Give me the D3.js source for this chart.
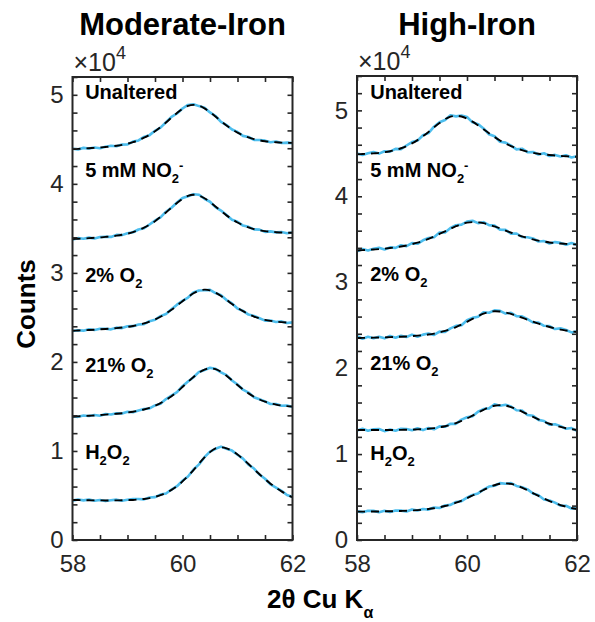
<!DOCTYPE html>
<html>
<head>
<meta charset="utf-8">
<script src="https://cdn.jsdelivr.net/npm/d3@7/dist/d3.min.js"></script>
<style>
  body { margin: 0; background: #ffffff; }
  svg { display: block; }
</style>
</head>
<body>
<svg id="chart" width="595" height="622"></svg>
<script>
// 2θ sampling grid (degrees, Cu Kα)
const twoTheta = [58.0,58.1,58.2,58.3,58.4,58.5,58.6,58.7,58.8,58.9,59.0,59.1,59.2,59.3,59.4,59.5,59.6,59.7,59.8,59.9,
                  60.0,60.1,60.2,60.3,60.4,60.5,60.6,60.7,60.8,60.9,61.0,61.1,61.2,61.3,61.4,61.5,61.6,61.7,61.8,61.9,62.0];

const sampleLabels = ["Unaltered", "5 mM NO2-", "2% O2", "21% O2", "H2O2"];
const xTickLabels = [58, 60, 62];
const yTickLabels = [0, 1, 2, 3, 4, 5];

// Moderate-iron samples: measured counts and fitted profiles (×10^4 counts, offset stacked)
const modUnalteredCounts = [4.394,4.387,4.404,4.397,4.409,4.399,4.416,4.427,4.423,4.441,4.443,4.474,4.488,4.527,4.547,4.596,4.631,4.692,4.752,4.790,4.846,4.886,4.893,4.873,4.855,4.802,4.762,4.697,4.660,4.611,4.583,4.539,4.526,4.493,4.492,4.485,4.468,4.475,4.458,4.463,4.457];
const modUnalteredFit    = [4.390,4.393,4.396,4.400,4.404,4.408,4.414,4.420,4.428,4.438,4.451,4.468,4.490,4.518,4.551,4.591,4.638,4.689,4.744,4.796,4.842,4.875,4.887,4.878,4.848,4.805,4.756,4.705,4.656,4.613,4.576,4.545,4.521,4.502,4.489,4.479,4.472,4.467,4.463,4.461,4.460];
const modNitriteCounts   = [3.375,3.390,3.383,3.396,3.386,3.402,3.406,3.404,3.427,3.424,3.446,3.456,3.487,3.501,3.544,3.587,3.623,3.687,3.731,3.791,3.841,3.861,3.884,3.878,3.832,3.799,3.739,3.700,3.649,3.597,3.574,3.531,3.517,3.489,3.486,3.461,3.466,3.455,3.459,3.446,3.454];
const modNitriteFit      = [3.380,3.383,3.386,3.390,3.394,3.398,3.404,3.410,3.418,3.428,3.441,3.458,3.480,3.508,3.541,3.581,3.628,3.679,3.734,3.786,3.832,3.865,3.877,3.868,3.838,3.795,3.746,3.695,3.646,3.603,3.566,3.535,3.511,3.492,3.479,3.469,3.462,3.457,3.453,3.451,3.450];
const modO2LowCounts     = [2.347,2.355,2.351,2.367,2.358,2.372,2.373,2.366,2.385,2.380,2.401,2.402,2.420,2.424,2.458,2.474,2.514,2.539,2.592,2.643,2.686,2.723,2.779,2.803,2.805,2.809,2.774,2.749,2.695,2.657,2.600,2.573,2.532,2.517,2.491,2.464,2.466,2.449,2.455,2.437,2.444];
const modO2LowFit        = [2.350,2.353,2.356,2.359,2.362,2.366,2.370,2.375,2.380,2.386,2.394,2.404,2.416,2.432,2.452,2.477,2.507,2.544,2.586,2.632,2.682,2.729,2.771,2.800,2.812,2.804,2.778,2.740,2.697,2.651,2.608,2.570,2.537,2.510,2.489,2.473,2.461,2.452,2.447,2.443,2.440];
const modO2HighCounts    = [1.389,1.383,1.398,1.393,1.403,1.395,1.415,1.410,1.424,1.420,1.440,1.435,1.455,1.471,1.477,1.512,1.531,1.583,1.622,1.660,1.728,1.781,1.828,1.888,1.909,1.934,1.922,1.882,1.852,1.792,1.746,1.688,1.656,1.603,1.580,1.557,1.527,1.527,1.508,1.511,1.495];
const modO2HighFit       = [1.385,1.388,1.392,1.395,1.399,1.403,1.408,1.413,1.418,1.424,1.432,1.441,1.452,1.466,1.484,1.508,1.537,1.573,1.615,1.664,1.719,1.776,1.831,1.880,1.914,1.928,1.919,1.889,1.845,1.794,1.741,1.692,1.647,1.609,1.578,1.553,1.535,1.521,1.511,1.504,1.500];
const modPeroxideCounts  = [0.442,0.455,0.445,0.455,0.441,0.450,0.437,0.447,0.453,0.440,0.452,0.461,0.461,0.456,0.478,0.482,0.510,0.522,0.567,0.604,0.665,0.713,0.791,0.849,0.930,0.993,1.024,1.049,1.025,1.004,0.957,0.914,0.847,0.803,0.735,0.688,0.624,0.589,0.553,0.505,0.483];
const modPeroxideFit     = [0.450,0.449,0.447,0.446,0.445,0.445,0.444,0.444,0.445,0.446,0.448,0.450,0.455,0.461,0.471,0.485,0.504,0.530,0.563,0.606,0.658,0.719,0.786,0.858,0.927,0.987,1.028,1.041,1.030,1.002,0.960,0.910,0.853,0.795,0.738,0.683,0.633,0.587,0.546,0.510,0.480];

// High-iron samples
const highUnalteredCounts = [4.499,4.480,4.501,4.514,4.497,4.524,4.519,4.552,4.549,4.591,4.631,4.648,4.711,4.735,4.810,4.862,4.888,4.943,4.930,4.941,4.923,4.861,4.840,4.790,4.722,4.699,4.635,4.625,4.590,4.546,4.554,4.513,4.516,4.486,4.501,4.469,4.482,4.464,4.478,4.452,4.467];
const highUnalteredFit    = [4.490,4.492,4.495,4.500,4.505,4.513,4.524,4.539,4.559,4.584,4.616,4.654,4.699,4.749,4.802,4.852,4.897,4.927,4.937,4.929,4.905,4.869,4.826,4.780,4.734,4.690,4.650,4.614,4.584,4.559,4.537,4.520,4.506,4.495,4.487,4.480,4.474,4.470,4.466,4.462,4.460];
const highNitriteCounts   = [3.360,3.386,3.370,3.390,3.400,3.380,3.406,3.400,3.430,3.419,3.455,3.447,3.488,3.515,3.524,3.578,3.580,3.632,3.663,3.670,3.706,3.715,3.688,3.699,3.664,3.659,3.612,3.609,3.566,3.567,3.526,3.524,3.510,3.474,3.479,3.450,3.467,3.458,3.437,3.456,3.434];
const highNitriteFit      = [3.370,3.373,3.377,3.381,3.385,3.391,3.398,3.406,3.416,3.428,3.443,3.460,3.481,3.505,3.532,3.562,3.592,3.623,3.652,3.677,3.693,3.700,3.697,3.687,3.670,3.649,3.626,3.601,3.577,3.554,3.533,3.515,3.498,3.484,3.473,3.463,3.456,3.450,3.446,3.442,3.440];
const highO2LowCounts     = [2.372,2.342,2.365,2.349,2.365,2.347,2.375,2.354,2.376,2.362,2.390,2.365,2.390,2.403,2.387,2.425,2.421,2.463,2.492,2.499,2.557,2.585,2.599,2.650,2.645,2.672,2.667,2.635,2.644,2.605,2.603,2.571,2.531,2.531,2.493,2.490,2.455,2.463,2.444,2.416,2.429];
const highO2LowFit        = [2.350,2.352,2.353,2.355,2.357,2.358,2.361,2.363,2.366,2.369,2.373,2.378,2.384,2.392,2.402,2.416,2.433,2.453,2.478,2.507,2.539,2.573,2.606,2.634,2.654,2.662,2.659,2.649,2.632,2.611,2.588,2.564,2.541,2.518,2.498,2.479,2.463,2.449,2.438,2.428,2.420];
const highO2HighCounts    = [1.274,1.294,1.271,1.288,1.291,1.267,1.286,1.271,1.294,1.292,1.277,1.300,1.279,1.303,1.288,1.322,1.318,1.353,1.352,1.401,1.428,1.441,1.493,1.524,1.532,1.579,1.562,1.574,1.554,1.510,1.507,1.455,1.447,1.398,1.385,1.342,1.348,1.325,1.294,1.303,1.270];
const highO2HighFit       = [1.280,1.280,1.280,1.280,1.280,1.280,1.280,1.281,1.282,1.283,1.284,1.287,1.290,1.295,1.302,1.312,1.324,1.341,1.361,1.386,1.415,1.448,1.482,1.515,1.544,1.563,1.570,1.564,1.547,1.523,1.495,1.464,1.433,1.404,1.377,1.353,1.333,1.316,1.301,1.290,1.280];
const highPeroxideCounts  = [0.333,0.324,0.341,0.339,0.324,0.340,0.325,0.344,0.342,0.332,0.356,0.343,0.360,0.354,0.379,0.373,0.402,0.409,0.442,0.452,0.492,0.524,0.542,0.586,0.622,0.631,0.662,0.655,0.662,0.629,0.615,0.589,0.542,0.521,0.472,0.459,0.435,0.400,0.399,0.367,0.368];
const highPeroxideFit     = [0.330,0.330,0.331,0.332,0.332,0.334,0.335,0.336,0.338,0.341,0.344,0.348,0.353,0.360,0.369,0.381,0.396,0.413,0.434,0.459,0.487,0.518,0.550,0.582,0.612,0.637,0.654,0.659,0.653,0.636,0.610,0.579,0.546,0.513,0.482,0.453,0.428,0.406,0.388,0.372,0.360];

// ---------------------------------------------------------------------------
const FONT = "'Liberation Sans', Arial, Helvetica, sans-serif";
const AXIS_COLOR = "#262626";
const DATA_COLOR = "#4DBEEE";

// Rich-text pieces for the sample names (0 = normal, 1 = subscript, 2 = superscript)
const labelParts = {
  "Unaltered": [["Unaltered", 0]],
  "5 mM NO2-": [["5 mM NO", 0], ["2", 1], ["-", 2]],
  "2% O2":     [["2% O", 0], ["2", 1]],
  "21% O2":    [["21% O", 0], ["2", 1]],
  "H2O2":      [["H", 0], ["2", 1], ["O", 0], ["2", 1]]
};

const panels = [
  {
    title: "Moderate-Iron", left: 72.5, right: 292.5, top: 77, bottom: 540, yMax: 5.2,
    counts: [modUnalteredCounts, modNitriteCounts, modO2LowCounts, modO2HighCounts, modPeroxideCounts],
    fits:   [modUnalteredFit, modNitriteFit, modO2LowFit, modO2HighFit, modPeroxideFit],
    labelX: 58.23, labelY: [4.95, 4.08, 2.90, 1.89, 0.91]
  },
  {
    title: "High-Iron", left: 357, right: 577, top: 76, bottom: 540, yMax: 5.4,
    counts: [highUnalteredCounts, highNitriteCounts, highO2LowCounts, highO2HighCounts, highPeroxideCounts],
    fits:   [highUnalteredFit, highNitriteFit, highO2LowFit, highO2HighFit, highPeroxideFit],
    labelX: 58.24, labelY: [5.13, 4.23, 3.01, 1.98, 0.93]
  }
];

const svg = d3.select("#chart");
svg.append("rect").attr("width", 595).attr("height", 622).attr("fill", "#ffffff");

const isInteger = v => Math.abs(v - Math.round(v)) < 1e-6;

function styleAxis(sel, showLabels) {
  sel.select(".domain").remove();
  sel.selectAll(".tick line").attr("stroke", AXIS_COLOR).attr("stroke-width", 1.6);
  sel.selectAll(".tick text")
    .attr("fill", AXIS_COLOR)
    .attr("font-family", FONT)
    .attr("font-size", 24)
    .style("display", showLabels ? null : "none");
}

panels.forEach((p, k) => {
  const x = d3.scaleLinear().domain([58, 62]).range([p.left, p.right]);
  const y = d3.scaleLinear().domain([0, p.yMax]).range([p.bottom, p.top]);
  const g = svg.append("g");

  const clipId = "plot-clip-" + k;
  svg.append("clipPath").attr("id", clipId)
    .append("rect")
    .attr("x", p.left).attr("y", p.top)
    .attr("width", p.right - p.left).attr("height", p.bottom - p.top);

  const plot = g.append("g").attr("clip-path", `url(#${clipId})`);
  const line = d3.line().x((d, i) => x(twoTheta[i])).y(d => y(d));

  // measured patterns
  p.counts.forEach(series => {
    plot.append("path")
      .attr("d", line(series))
      .attr("fill", "none")
      .attr("stroke", DATA_COLOR)
      .attr("stroke-width", 2.6)
      .attr("stroke-linejoin", "round");
  });
  // fitted profiles
  const fitLine = d3.line().x((d, i) => x(twoTheta[i])).y(d => y(d)).curve(d3.curveCatmullRom);
  p.fits.forEach(series => {
    plot.append("path")
      .attr("d", fitLine(series))
      .attr("fill", "none")
      .attr("stroke", "#000000")
      .attr("stroke-width", 1.9)
      .attr("stroke-dasharray", "8,6");
  });

  // axes with inward ticks on all four sides
  const xTicks = d3.range(0, 9).map(i => 58 + i * 0.5);
  const yTicks = d3.range(0, Math.round(p.yMax / 0.2) + 1).map(i => +(i * 0.2).toFixed(1));

  g.append("g").attr("transform", `translate(0,${p.bottom})`)
    .call(d3.axisBottom(x).tickValues(xTicks).tickSize(-5).tickSizeOuter(0).tickPadding(15)
      .tickFormat(d => xTickLabels.includes(d) ? String(d) : ""))
    .call(s => styleAxis(s, true));
  g.append("g").attr("transform", `translate(0,${p.top})`)
    .call(d3.axisTop(x).tickValues(xTicks).tickSize(-5).tickSizeOuter(0))
    .call(s => styleAxis(s, false));
  g.append("g").attr("transform", `translate(${p.left},0)`)
    .call(d3.axisLeft(y).tickValues(yTicks).tickSize(-5).tickSizeOuter(0).tickPadding(9)
      .tickFormat(d => (isInteger(d) && yTickLabels.includes(Math.round(d))) ? String(Math.round(d)) : ""))
    .call(s => styleAxis(s, true));
  g.append("g").attr("transform", `translate(${p.right},0)`)
    .call(d3.axisRight(y).tickValues(yTicks).tickSize(-5).tickSizeOuter(0))
    .call(s => styleAxis(s, false));

  // frame
  g.append("rect")
    .attr("x", p.left).attr("y", p.top)
    .attr("width", p.right - p.left).attr("height", p.bottom - p.top)
    .attr("fill", "none").attr("stroke", AXIS_COLOR).attr("stroke-width", 2);

  // exponent marker
  const expo = g.append("text")
    .attr("x", p.left + 1).attr("y", p.top - 6)
    .attr("font-family", FONT).attr("font-size", 25).attr("fill", AXIS_COLOR);
  expo.append("tspan").text("\u00D710");
  expo.append("tspan").attr("font-size", 18).attr("dy", -12).text("4");

  // panel title
  g.append("text")
    .attr("x", (p.left + p.right) / 2).attr("y", 35)
    .attr("text-anchor", "middle")
    .attr("font-family", FONT).attr("font-weight", "bold").attr("font-size", 31)
    .attr("fill", "#000000")
    .text(p.title);

  // sample labels
  sampleLabels.forEach((name, i) => {
    const t = g.append("text")
      .attr("x", x(p.labelX)).attr("y", y(p.labelY[i]))
      .attr("font-family", FONT).attr("font-weight", "bold").attr("font-size", 20)
      .attr("fill", "#000000");
    let shift = 0;
    labelParts[name].forEach(([txt, kind]) => {
      const target = kind === 1 ? 6 : kind === 2 ? -7 : 0;
      const ts = t.append("tspan").attr("dy", target - shift).text(txt);
      if (kind) ts.attr("font-size", 13);
      shift = target;
    });
  });
});

// shared axis titles
svg.append("text")
  .attr("transform", "translate(35,304) rotate(-90)")
  .attr("text-anchor", "middle")
  .attr("font-family", FONT).attr("font-weight", "bold").attr("font-size", 26)
  .attr("fill", "#000000")
  .text("Counts");

const xTitle = svg.append("text")
  .attr("x", 267).attr("y", 608)
  .attr("font-family", FONT).attr("font-weight", "bold").attr("font-size", 26)
  .attr("fill", "#000000");
xTitle.append("tspan").text("2\u03B8 Cu K");
xTitle.append("tspan").attr("font-size", 16).attr("dy", 10).text("\u03B1");
</script>
</body>
</html>
